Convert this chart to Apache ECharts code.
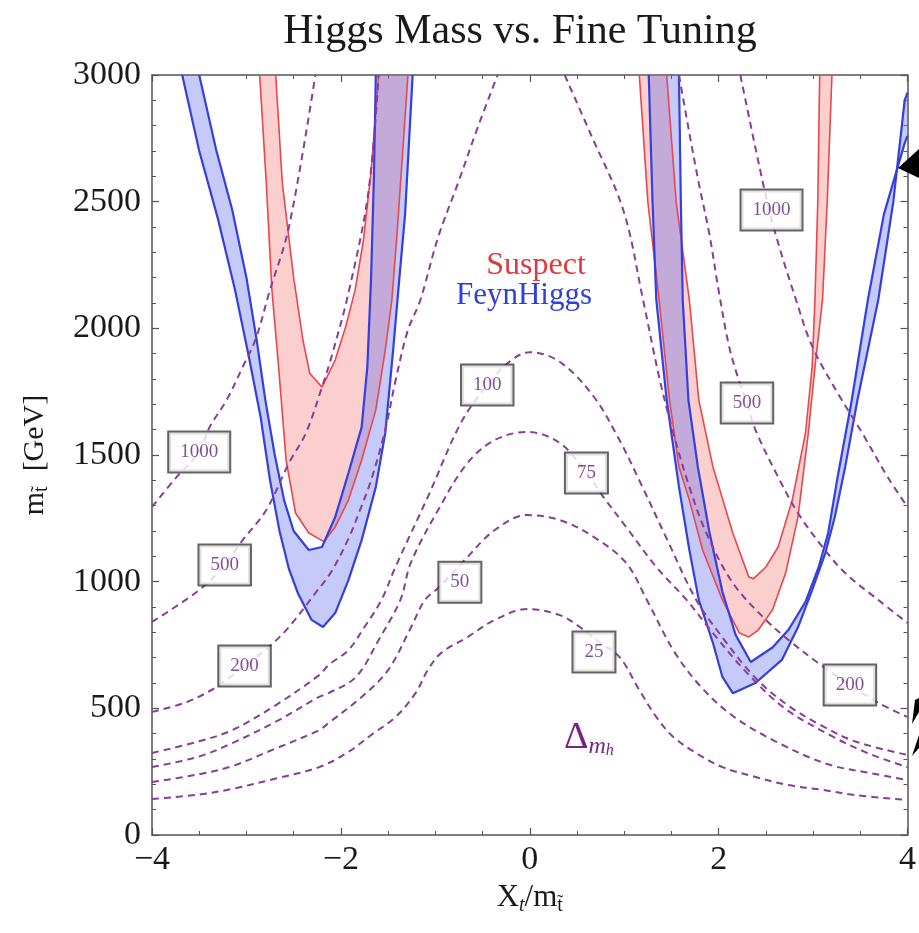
<!DOCTYPE html>
<html><head><meta charset="utf-8">
<script src="https://cdn.jsdelivr.net/npm/echarts@6/dist/echarts.min.js"></script>
<style>html,body{margin:0;padding:0;background:#fff}#c{width:919px;height:933px}</style>
</head><body><div id="c"></div>
<script>
// ---------- data ----------
const xTickValues = [-4, -2, 0, 2, 4];
const yTickValues = [0, 500, 1000, 1500, 2000, 2500, 3000];

// fine-tuning contours (Delta_mh), [X_t/m_stop, m_stop]
const contour25 = [[-4,142],[-3.5,160],[-3.15,182],[-2.7,222],[-2.23,268],[-1.92,328],[-1.68,395],[-1.42,466],[-1.21,560],[-1.08,651],[-0.94,718],[-0.66,781],[-0.37,849],[-0.03,892],[0.32,868],[0.53,821],[0.74,760],[0.95,703],[1.16,572],[1.34,466],[1.52,387],[1.76,324],[2.04,268],[2.39,229],[2.74,197],[3.1,178],[3.44,158],[4,138]];
const contour50 = [[-4,209],[-3.5,240],[-3.15,272],[-2.7,340],[-2.23,414],[-2.13,442],[-1.78,545],[-1.5,651],[-1.27,810],[-1.11,928],[-0.97,975],[-0.69,1085],[-0.37,1204],[-0.03,1263],[0.32,1243],[0.68,1176],[1.02,1074],[1.24,928],[1.52,730],[1.8,590],[2.15,470],[2.6,370],[3.15,280],[3.6,245],[4,217]];
const contour75 = [[-4,268],[-3.5,310],[-3.15,363],[-2.7,445],[-2.23,545],[-2.13,560],[-1.84,624],[-1.6,770],[-1.37,928],[-1.26,1074],[-0.97,1283],[-0.66,1468],[-0.37,1559],[-0.03,1591],[0.32,1547],[0.6,1429],[0.78,1334],[1.02,1216],[1.34,1058],[1.66,928],[1.94,797],[2.3,640],[2.7,500],[3.2,390],[3.6,320],[4,268]];
const contour100 = [[-4,324],[-3.5,370],[-3.15,414],[-2.7,510],[-2.23,631],[-2.13,671],[-1.92,730],[-1.75,821],[-1.57,928],[-1.42,1060],[-1.08,1334],[-0.73,1626],[-0.45,1776],[-0.22,1867],[0,1906],[0.32,1867],[0.68,1729],[0.95,1559],[1.16,1400],[1.45,1170],[1.76,930],[2.04,780],[2.39,620],[2.74,510],[3.1,430],[3.44,370],[4,316]];
const contour200L = [[-4,486],[-3.63,525],[-3.32,584],[-3.02,667],[-2.74,750],[-2.55,821],[-2.27,955],[-2.1,1040],[-1.92,1170],[-1.8,1280],[-1.68,1401],[-1.53,1599],[-1.42,1796],[-1.29,1993],[-1.16,2110],[-0.97,2360],[-0.76,2573],[-0.55,2794],[-0.34,3000]];
const contour200R = [[0.37,3000],[0.64,2771],[0.99,2467],[1.2,2112],[1.37,1808],[1.52,1587],[1.69,1374],[1.87,1192],[2.15,995],[2.5,849],[2.74,770],[3.05,680],[3.39,592],[3.7,520],[4,466]];
const contour500L = [[-4,841],[-3.5,967],[-3.23,1066],[-3.04,1164],[-2.79,1283],[-2.55,1468],[-2.37,1587],[-2.2,1768],[-2.1,1887],[-1.92,2139],[-1.71,2534],[-1.6,3000]];
const contour500R = [[1.58,3000],[1.69,2771],[1.79,2573],[1.9,2376],[2.0,2150],[2.11,1930],[2.21,1800],[2.3,1705],[2.39,1599],[2.63,1413],[2.84,1271],[3.1,1137],[3.34,1034],[3.69,928],[4,837]];
const contour1000L = [[-4,1295],[-3.74,1413],[-3.5,1512],[-3.39,1610],[-3.21,1717],[-3.04,1847],[-2.9,1960],[-2.76,2140],[-2.55,2400],[-2.27,3000]];
const contour1000R = [[2.23,3000],[2.47,2573],[2.6,2376],[2.82,2112],[2.99,1930],[3.26,1745],[3.52,1587],[3.79,1413],[4,1295]];

// contour label boxes
const labelTexts = ['1000','500','200','100','75','50','25','1000','500','200'];
const labelX = [-3.50,-3.23,-3.02,-0.45,0.60,-0.74,0.68,2.56,2.30,3.39];
const labelY = [1512,1066,667,1776,1429,998,722,2467,1705,592];

// Higgs mass bands: each boundary is a U-shaped curve (top-left -> bottom -> top-right)
const suspectLeftOuter = [[-2.86,3000],[-2.79,2573],[-2.73,2150],[-2.66,1850],[-2.58,1480],[-2.48,1271],[-2.34,1192],[-2.18,1158],[-2.06,1216],[-1.92,1322],[-1.78,1480],[-1.63,1678],[-1.53,1914],[-1.46,2112],[-1.4,2400],[-1.29,3000]];
const suspectLeftInner = [[-2.69,3000],[-2.62,2573],[-2.5,2200],[-2.4,1950],[-2.33,1823],[-2.2,1768],[-2.06,1875],[-1.95,2005],[-1.85,2150],[-1.76,2350],[-1.68,2620],[-1.6,3000]];
const feynLeftOuter = [[-3.68,3000],[-3.5,2700],[-3.3,2430],[-3.12,2150],[-2.97,1880],[-2.85,1650],[-2.75,1400],[-2.65,1200],[-2.55,1050],[-2.45,950],[-2.31,849],[-2.19,821],[-2.06,876],[-1.92,1006],[-1.78,1164],[-1.63,1374],[-1.53,1587],[-1.45,1900],[-1.38,2200],[-1.32,2450],[-1.24,3000]];
const feynLeftInner = [[-3.5,3000],[-3.32,2704],[-3.15,2467],[-3.0,2200],[-2.89,1950],[-2.8,1717],[-2.7,1500],[-2.6,1320],[-2.5,1200],[-2.34,1125],[-2.2,1137],[-2.06,1255],[-1.92,1429],[-1.78,1610],[-1.72,1847],[-1.68,2200],[-1.65,2600],[-1.63,3000]];
const suspectRightOuter = [[1.16,3000],[1.25,2500],[1.37,2112],[1.48,1717],[1.58,1453],[1.69,1322],[1.83,1125],[2.04,928],[2.22,797],[2.32,782],[2.42,809],[2.57,888],[2.71,1034],[2.84,1255],[2.95,1587],[3.02,1847],[3.1,2112],[3.15,2500],[3.2,3000]];
const suspectRightInner = [[1.45,3000],[1.55,2500],[1.69,2112],[1.79,1717],[1.94,1453],[2.15,1192],[2.32,1018],[2.37,1012],[2.5,1058],[2.63,1137],[2.78,1322],[2.92,1587],[2.99,1847],[3.02,2112],[3.05,2500],[3.07,3000]];
const feynRightOuter = [[1.26,3000],[1.3,2500],[1.34,2112],[1.45,1717],[1.58,1374],[1.69,1125],[1.79,928],[1.94,758],[2.04,624],[2.15,560],[2.39,600],[2.67,691],[2.84,820],[2.99,967],[3.13,1113],[3.23,1255],[3.34,1453],[3.47,1717],[3.69,2112],[3.85,2500],[3.97,2900],[4,2930]];
const feynRightInner = [[1.58,3000],[1.6,2500],[1.62,2112],[1.68,1717],[1.78,1453],[1.9,1200],[2.04,960],[2.18,790],[2.34,683],[2.57,740],[2.74,810],[2.92,920],[3.06,1058],[3.16,1192],[3.26,1413],[3.41,1717],[3.58,2112],[3.75,2450],[3.97,2731],[4,2760]];

// ---------- styles ----------
const SERIF = "'Liberation Serif','Times New Roman',serif";
const PURPLE = '#8a3c98';
const BLUE = '#3340de';
const RED = '#e8474c';
const BLUE_FILL = 'rgba(85,100,238,0.34)';
const RED_FILL = 'rgba(245,95,95,0.30)';

function bandFill(name, outer, inner, color) {
  const ring = outer.concat(inner.slice().reverse());
  return {
    type: 'custom', name: name, coordinateSystem: 'cartesian2d', clip: true, silent: true, z: 1,
    data: [[0, 0]],
    renderItem: function (params, api) {
      return { type: 'polygon', shape: { points: ring.map(function (p) { return api.coord(p); }) }, style: { fill: color, stroke: null } };
    }
  };
}
function bandLine(data, color, width) {
  return { type: 'line', data: data, symbol: 'none', silent: true, z: 3, clip: true,
    lineStyle: { color: color, width: width }, animation: false };
}
function contourLine(data) {
  return { type: 'line', data: data, symbol: 'none', smooth: 0.35, silent: true, z: 4, clip: true,
    lineStyle: { color: PURPLE, width: 2, type: [7, 5] }, animation: false };
}

const axisColor = '#555';
function frameAxis(pos, min, max, interval, split, showLabel) {
  return {
    type: 'value', position: pos, min: min, max: max, interval: interval,
    axisLine: { show: true, onZero: false, lineStyle: { color: axisColor, width: 1.5 } },
    axisTick: { show: true, inside: true, length: 7, lineStyle: { color: axisColor, width: 1.2 } },
    minorTick: { show: true, splitNumber: split, length: 4, lineStyle: { color: axisColor, width: 1 } },
    splitLine: { show: false }, minorSplitLine: { show: false },
    axisLabel: { show: showLabel }
  };
}

const xBottom = frameAxis('bottom', -4, 4, 2, 4, true);
xBottom.axisLabel = { show: true, fontFamily: SERIF, fontSize: 34, color: '#1a1a1a', margin: 8,
  showMinLabel: true, showMaxLabel: true,
  formatter: function (v) { return String(v).replace('-', '\u2212'); } };
xBottom.name = '{n|X}{it|t}{n|/m}{s|t\u0303}';
xBottom.nameLocation = 'middle';
xBottom.nameGap = 34;
xBottom.nameTextStyle = { fontFamily: SERIF, color: '#1a1a1a', rich: {
  n: { fontFamily: SERIF, fontSize: 31, lineHeight: 36, color: '#1a1a1a' },
  it: { fontFamily: SERIF, fontSize: 20, fontStyle: 'italic', lineHeight: 22, verticalAlign: 'bottom', color: '#1a1a1a' },
  s: { fontFamily: SERIF, fontSize: 20, lineHeight: 22, verticalAlign: 'bottom', color: '#1a1a1a' } } };
const xTop = frameAxis('top', -4, 4, 2, 4, false);

const yLeft = frameAxis('left', 0, 3000, 500, 5, true);
yLeft.axisLabel = { show: true, fontFamily: SERIF, fontSize: 34, color: '#1a1a1a', margin: 11,
  showMinLabel: true, showMaxLabel: true, formatter: function (v) { return String(v); } };
yLeft.name = '{n|m}{s|t\u0303}{n|  [GeV]}';
yLeft.nameLocation = 'middle';
yLeft.nameGap = 100;
yLeft.nameTextStyle = { fontFamily: SERIF, color: '#1a1a1a', rich: {
  n: { fontFamily: SERIF, fontSize: 30, lineHeight: 34, color: '#1a1a1a' },
  s: { fontFamily: SERIF, fontSize: 20, lineHeight: 22, verticalAlign: 'bottom', color: '#1a1a1a' } } };
const yRight = frameAxis('right', 0, 3000, 500, 5, false);

const labelData = labelTexts.map(function (t, i) { return { value: [labelX[i], labelY[i]], name: t }; });

const series = [
  bandFill('Suspect L', suspectLeftOuter, suspectLeftInner, RED_FILL),
  bandFill('Suspect R', suspectRightOuter, suspectRightInner, RED_FILL),
  bandFill('FeynHiggs L', feynLeftOuter, feynLeftInner, BLUE_FILL),
  bandFill('FeynHiggs R', feynRightOuter, feynRightInner, BLUE_FILL),
  bandLine(suspectLeftOuter, RED, 1.6), bandLine(suspectLeftInner, RED, 1.6),
  bandLine(suspectRightOuter, RED, 1.6), bandLine(suspectRightInner, RED, 1.6),
  bandLine(feynLeftOuter, BLUE, 2.2), bandLine(feynLeftInner, BLUE, 2.2),
  bandLine(feynRightOuter, BLUE, 2.2), bandLine(feynRightInner, BLUE, 2.2),
  contourLine(contour25), contourLine(contour50), contourLine(contour75), contourLine(contour100),
  contourLine(contour200L), contourLine(contour200R), contourLine(contour500L), contourLine(contour500R),
  contourLine(contour1000L), contourLine(contour1000R),
  { type: 'scatter', data: labelData, symbol: 'circle', symbolSize: 1, itemStyle: { color: 'rgba(0,0,0,0)' }, z: 6, silent: true,
    label: { show: true, position: 'inside', formatter: '{b}', fontFamily: SERIF, fontSize: 19, lineHeight: 20,
      color: '#65207a', textBorderWidth: 0, textShadowBlur: 0,
      backgroundColor: '#fff', borderColor: '#3c3c3c', borderWidth: 2, padding: [10, 11, 9, 11] } }
];

const chart = echarts.init(document.getElementById('c'), null, { renderer: 'canvas' });
chart.setOption({
  animation: false,
  backgroundColor: '#fff',
  grid: { left: 152, right: 6, top: 75, bottom: 98, containLabel: false },
  xAxis: [xBottom, xTop],
  yAxis: [yLeft, yRight],
  series: series,
  graphic: [
    { type: 'text', x: 520, y: 32, z: 10, style: { text: 'Higgs Mass vs. Fine Tuning', font: "42px 'Liberation Serif'", fill: '#1a1a1a', align: 'center', verticalAlign: 'middle', textAlign: 'center', textVerticalAlign: 'middle' } },
    { type: 'text', x: 536, y: 266, z: 10, style: { text: 'Suspect', font: "32px 'Liberation Serif'", fill: '#e0383c', align: 'center', verticalAlign: 'middle', textAlign: 'center', textVerticalAlign: 'middle' } },
    { type: 'text', x: 524, y: 296, z: 10, style: { text: 'FeynHiggs', font: "31px 'Liberation Serif'", fill: '#2f3fd8', align: 'center', verticalAlign: 'middle', textAlign: 'center', textVerticalAlign: 'middle' } },
    { type: 'text', x: 564, y: 738, z: 10, style: { rich: {
        d: { fontFamily: SERIF, fontSize: 38, lineHeight: 42, fill: '#7a2382', color: '#7a2382' },
        m: { fontFamily: SERIF, fontSize: 24, fontStyle: 'italic', lineHeight: 28, verticalAlign: 'bottom', fill: '#7a2382', color: '#7a2382' },
        h: { fontFamily: SERIF, fontSize: 16, fontStyle: 'italic', lineHeight: 19, verticalAlign: 'bottom', fill: '#7a2382', color: '#7a2382' } },
        text: '{d|\u0394}{m|m}{h|h}', align: 'left', verticalAlign: 'middle', textAlign: 'left', textVerticalAlign: 'middle' } },
    { type: 'polygon', z: 10, shape: { points: [[898,168],[919,149],[919,178]] }, style: { fill: '#000' } },
    { type: 'polygon', z: 10, shape: { points: [[912,724],[915,700],[919,698],[919,712]] }, style: { fill: '#000' } },
    { type: 'polygon', z: 10, shape: { points: [[912,756],[919,735],[919,748]] }, style: { fill: '#000' } }
  ]
});
</script>
</body></html>
